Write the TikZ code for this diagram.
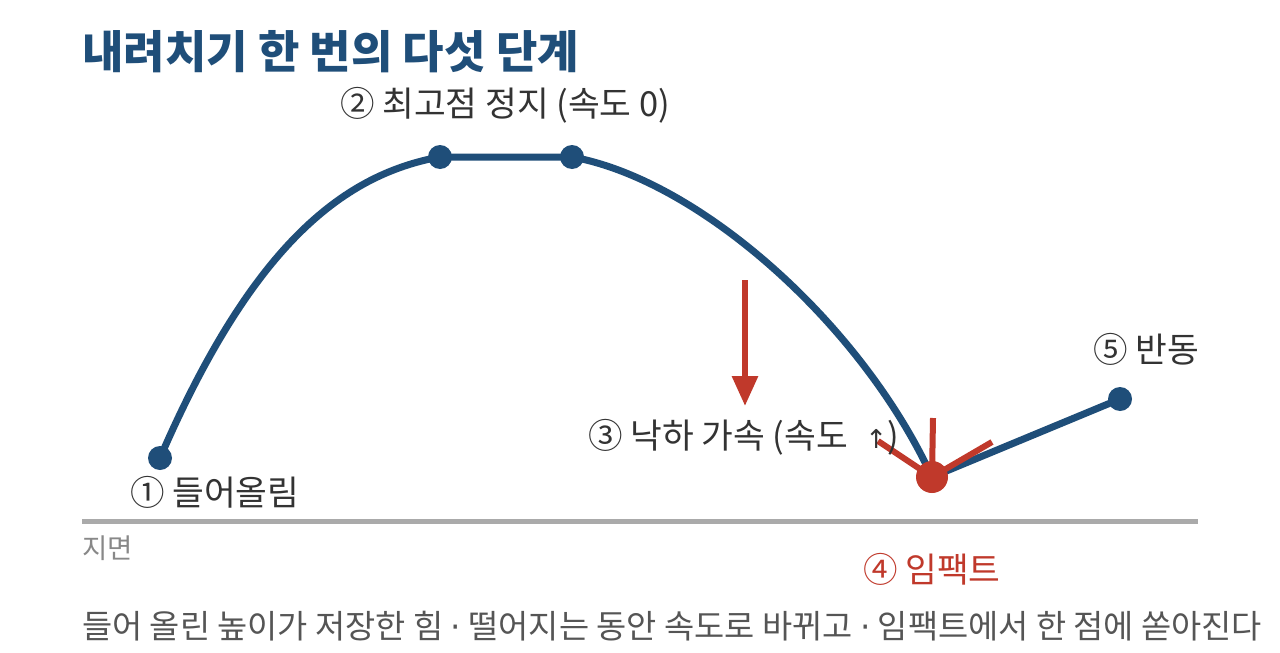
\documentclass[tikz,border=0pt]{standalone}
\usepackage{fontspec}
\setmainfont{Noto Sans CJK KR}
\newfontfamily\dvfont{DejaVu Sans}
\usetikzlibrary{arrows.meta}
\definecolor{navy}{HTML}{1F4E79}
\definecolor{impact}{HTML}{C0392B}
\definecolor{txt}{HTML}{333333}
\definecolor{note}{HTML}{555555}
\definecolor{ground}{HTML}{AAAAAA}
\definecolor{groundtxt}{HTML}{888888}
\begin{document}
\begin{tikzpicture}[x=1pt,y=-1pt,
  dot/.style={circle,fill=navy,inner sep=0pt,minimum size=24pt},
  bigdot/.style={circle,fill=impact,inner sep=0pt,minimum size=32pt},
  path/.style={draw=navy,line width=7pt},
  spark/.style={draw=impact,line width=6pt},
  lab/.style={font=\fontsize{34.5}{40}\selectfont,text=txt,inner sep=0pt,anchor=west}]
\useasboundingbox[fill=white] (0,0) rectangle (1280,653);
% title
\node[anchor=west,inner sep=0pt,text=navy,font=\fontsize{45}{52}\selectfont\bfseries] (title) at (82,52) {내려치기 한 번의 다섯 단계};
% ground
\coordinate (g1) at (82,521);
\coordinate (g2) at (1198,521);
\draw[ground,line width=5pt] (g1) -- (g2);
\node[anchor=west,inner sep=0pt,text=groundtxt,font=\fontsize{27.5}{32}\selectfont] (ground) at (82,548) {지면};
% points
\coordinate (p1) at (160,458);
\coordinate (p2) at (440,157);
\coordinate (p3) at (572,157);
\coordinate (p4) at (932,477);
\coordinate (p5) at (1120,399);
% trajectory
\draw[path] (p1) .. controls (250,250) and (340,175) .. (p2) -- (p3)
  .. controls (700,180) and (862,325) .. (p4) -- (p5);
% impact sparks
\coordinate (s1) at (933,418);
\coordinate (s2) at (878,441);
\coordinate (s3) at (992,442);
\draw[spark] (p4) -- (s1);
\draw[spark] (p4) -- (s2);
\draw[spark] (p4) -- (s3);
% dots
\node[dot] (d1) at (p1) {};
\node[dot] (d2) at (p2) {};
\node[dot] (d3) at (p3) {};
\node[dot] (d5) at (p5) {};
\node[bigdot] (d4) at (p4) {};
% fall arrow
\coordinate (a1) at (745,280);
\coordinate (a2) at (745,406);
\draw[impact,line width=6pt,-{Triangle[length=30pt,width=25pt]}] (a1) -- (a2);
% labels
\node[lab] (l2) at (340,105) {② 최고점 정지 (속도 0)};
\node[lab] (l1) at (130,492) {① 들어올림};
\node[lab] (l3) at (588,437) {③ 낙하 가속 (속도 \;{\dvfont\fontsize{26}{30}\selectfont ↑})};
\node[lab,text=impact] (l4) at (863,569) {④ 임팩트};
\node[lab] (l5) at (1093,349) {⑤ 반동};
\node[anchor=west,inner sep=0pt,text=note,font=\fontsize{32.8}{38}\selectfont] (caption) at (82,626) {들어 올린 높이가 저장한 힘 {\dvfont·} 떨어지는 동안 속도로 바뀌고 {\dvfont·} 임팩트에서 한 점에 쏟아진다};
\end{tikzpicture}
\end{document}
